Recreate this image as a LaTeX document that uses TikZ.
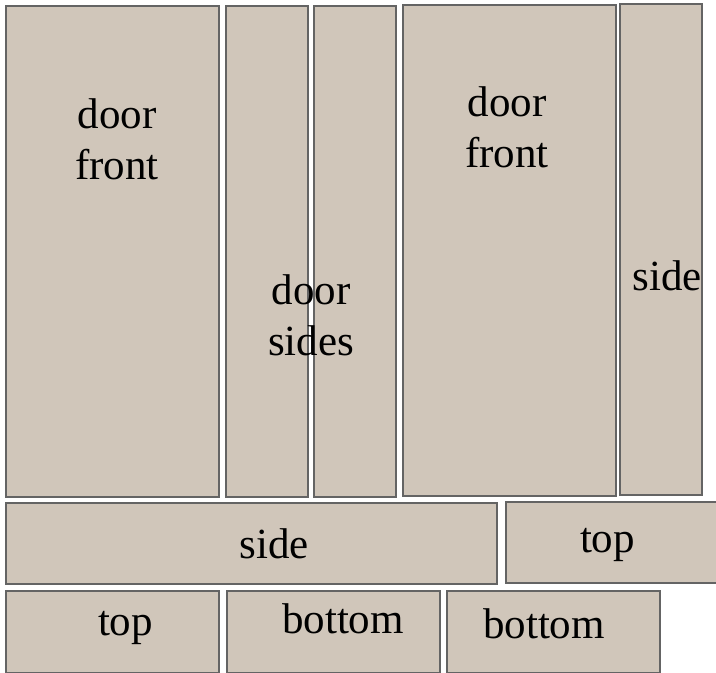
\documentclass[tikz,border=0pt]{standalone}
\usepackage{fontspec}
\setmainfont{Liberation Serif}
\definecolor{panelfill}{RGB}{208,198,186}
\definecolor{paneledge}{RGB}{100,100,100}
\tikzset{
  panel/.style={draw=paneledge, fill=panelfill, line width=1.2pt, inner sep=0pt},
  lbl/.style={inner sep=0pt, align=center, anchor=base, font=\fontsize{43}{51}\selectfont}
}
\begin{document}
\begin{tikzpicture}[x=1pt,y=-1pt]
\useasboundingbox (0,0) rectangle (716,673);
% panels
\draw[panel] (6,6) rectangle (219,497) node[pos=0.5] (p1) {};
\draw[panel] (226,6) rectangle (308,497) node[pos=0.5] (p2) {};
\draw[panel] (314,6) rectangle (396,497) node[pos=0.5] (p3) {};
\draw[panel] (403,5) rectangle (616,496) node[pos=0.5] (p4) {};
\draw[panel] (620,4) rectangle (702,495) node[pos=0.5] (p5) {};
\draw[panel] (6,503) rectangle (497,584) node[pos=0.5] (p6) {};
\draw[panel] (506,502) rectangle (717,583) node[pos=0.5] (p7) {};
\draw[panel] (6,591) rectangle (219,673) node[pos=0.5] (p8) {};
\draw[panel] (227,591) rectangle (440,673) node[pos=0.5] (p9) {};
\draw[panel] (447,591) rectangle (660,673) node[pos=0.5] (p10) {};
% labels (base anchor = baseline of last line)
\node[lbl] (t1) at (117,179) {door\\front};
\node[lbl] (t2) at (311,355) {door\\sides};
\node[lbl] (t3) at (507,167) {door\\front};
\node[lbl] (t4) at (667,290) {side};
\node[lbl] (t5) at (274,558) {side};
\node[lbl] (t6) at (607.5,552) {top};
\node[lbl] (t7) at (125.5,635) {top};
\node[lbl] (t8) at (343,633) {bottom};
\node[lbl] (t9) at (544,638) {bottom};
\end{tikzpicture}
\end{document}
